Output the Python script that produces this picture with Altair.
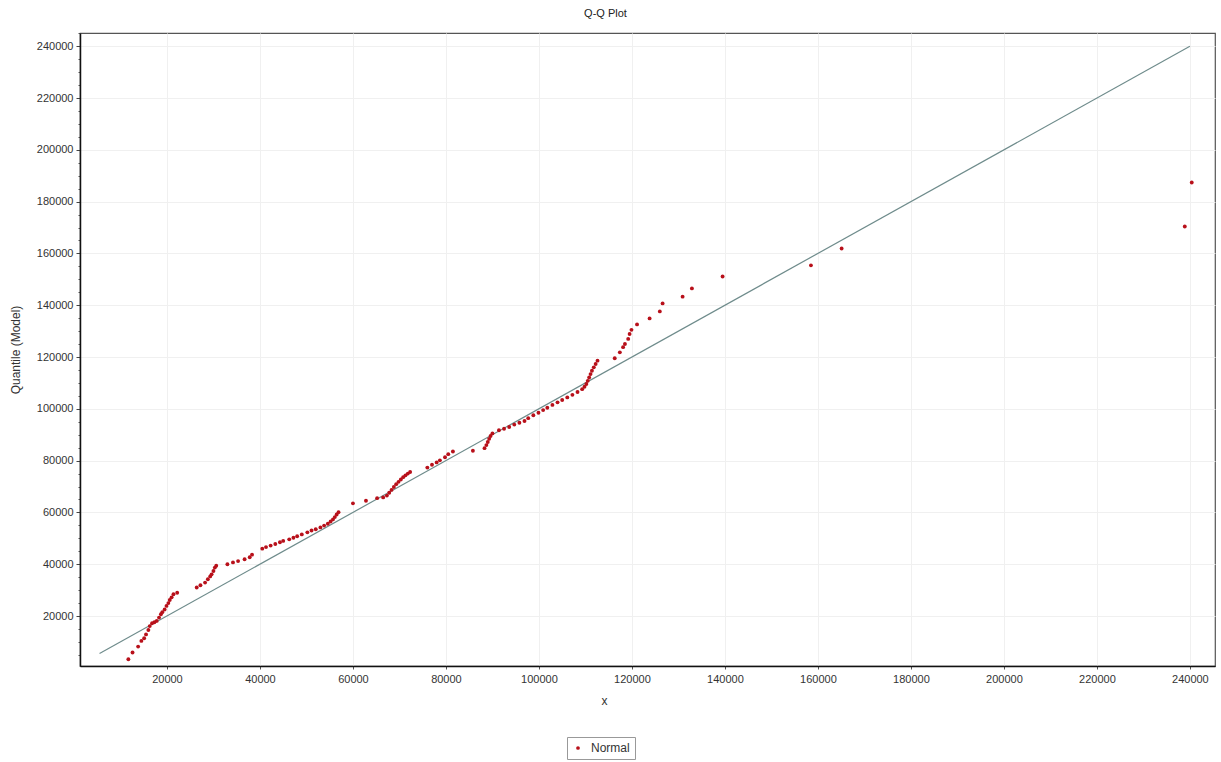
import altair as alt
import pandas as pd

# Q-Q points: sample quantile (x) vs model quantile (y)
x_vals = [
    11700, 12600, 13800, 14500, 15100, 15500, 16000, 16300, 16800, 17300, 17800,
    18300, 18700, 19000, 19500, 19900, 20300, 20600, 21000, 21400, 22200,
    26400, 27200, 28200, 28800, 29300, 29600, 30000, 30300, 30600,
    33000, 34200, 35300, 36700, 37800, 38300,
    40500, 41300, 42300, 43300, 44300, 45000,
    46300, 47200, 48000, 49000, 50200, 51100, 52000,
    53000, 53800, 54600, 55200, 55700, 56100, 56500, 56900,
    60000, 62800, 65200, 66500,
    67300, 67800, 68300, 68800, 69300, 69800, 70300, 70800, 71300, 71800, 72300,
    76000, 77000, 78000, 78700, 79800, 80500, 81500,
    85800,
    88300, 88700, 89000, 89300, 89600, 90000,
    91400, 92500, 93600, 94700, 95800, 96900, 97700, 98800, 99900, 100900,
    101800, 102900, 104000, 105000, 106100, 107200, 108300, 109300,
    109800, 110200, 110500, 110800, 111100, 111400, 111800, 112200, 112600,
    116300, 117400, 118100, 118500, 119200, 119500, 119900, 121100,
    123800, 126000, 126600, 130900, 132900, 139500, 158500, 165100,
    238900, 240400,
]
y_vals = [
    3300, 5900, 8200, 10400, 11400, 12900, 14600, 16100, 17200, 17600, 18100,
    19400, 20700, 21500, 22500, 23900, 25000, 26200, 27200, 28400, 29000,
    31000, 31900, 32900, 34200, 35300, 36100, 37400, 38700, 39400,
    40000, 40700, 41200, 41900, 42700, 43700,
    46000, 46600, 47200, 47800, 48500, 49000,
    49600, 50200, 50800, 51500, 52300, 53000, 53500,
    54200, 54900, 55600, 56500, 57300, 58200, 59200, 60100,
    63500, 64500, 65500, 65800,
    66500, 67600, 68700, 69800, 70900, 71800, 72700, 73600, 74300, 75000, 75600,
    77300, 78400, 79300, 80100, 81300, 82500, 83500,
    83800,
    84800, 86000, 87200, 88400, 89500, 90500,
    91700, 92300, 93000, 93900, 94600, 95300, 96400, 97500, 98500, 99500,
    100400, 101500, 102500, 103400, 104400, 105400, 106500, 107600,
    108500, 109600, 110800, 112100, 113400, 114700, 116000, 117300, 118600,
    119500, 121800, 123800, 125000, 127000, 128900, 130500, 132600,
    134900, 137600, 140700, 143300, 146500, 151100, 155400, 161900,
    170400, 187400,
]
series_name = "Normal"

# reference line (y = x)
line_x = [5500, 240000]
line_y = [5500, 240000]

tick_vals = [20000, 40000, 60000, 80000, 100000, 120000, 140000,
             160000, 180000, 200000, 220000, 240000]
minor_tick_vals = list(range(5000, 245001, 5000))

pts = pd.DataFrame({"x": x_vals, "q": y_vals, "series": series_name})
ln = pd.DataFrame({"x": line_x, "q": line_y})

FONT = "Liberation Sans"

xscale = alt.Scale(domain=[1300, 245400], nice=False, zero=False)
yscale = alt.Scale(domain=[700, 245100], nice=False, zero=False)

def xaxis():
    return alt.Axis(values=tick_vals, format="d", title="x", grid=True,
                    gridColor="#f0f0f0", domainColor="#111", domainWidth=1.5,
                    tickColor="#555", tickSize=3, labelFont=FONT, labelFontSize=11,
                    labelColor="#333", labelPadding=4, titleFont=FONT,
                    titleFontSize=12, titleFontWeight="normal", titleColor="#333",
                    titleX=524, titleY=34, titleBaseline="middle")

main_yaxis = alt.Axis(values=tick_vals, format="d", title="Quantile (Model)", grid=True,
                      orient="left",
                      gridColor="#f0f0f0", domainColor="#111", domainWidth=1.5,
                      tickColor="#444", tickSize=4, labelFont=FONT, labelFontSize=11,
                      labelColor="#333", labelPadding=3, titleFont=FONT,
                      titleFontSize=12, titleFontWeight="normal", titleColor="#333",
                      titleX=-65, titleBaseline="middle")

minor_yaxis = alt.Axis(values=minor_tick_vals, orient="left", labels=False, title=None,
                       grid=False, domain=False, tickColor="#555", tickSize=2,
                       tickWidth=1)

line = alt.Chart(ln).mark_line(color="#6f8c8c", strokeWidth=1.2).encode(
    x=alt.X("x:Q", scale=xscale, axis=xaxis()),
    y=alt.Y("q:Q", scale=yscale, axis=minor_yaxis),
)

points = alt.Chart(pts).mark_circle(size=15, opacity=1).encode(
    x=alt.X("x:Q", scale=xscale, axis=xaxis()),
    y=alt.Y("q:Q", scale=yscale, axis=main_yaxis),
    color=alt.Color("series:N", scale=alt.Scale(range=["#b8101a"]),
                    legend=alt.Legend(title=None, orient="none", legendX=487, legendY=704,
                                      strokeColor="#999", padding=5, symbolSize=14,
                                      symbolType="circle", labelFont=FONT,
                                      labelFontSize=12, labelColor="#333",
                                      labelOffset=7, direction="horizontal")),
)

chart = alt.layer(line, points).resolve_scale(y="independent").properties(
    width=1135, height=633,
    autosize=alt.AutoSizeParams(type="none"),
    padding={"left": 80, "top": 33, "right": 6, "bottom": 96},
    title=alt.TitleParams("Q-Q Plot", font=FONT, fontSize=11, fontWeight="normal",
                          color="#222", dx=-42, offset=14),
).configure_view(stroke="#555", strokeWidth=1.2)

chart.save("out.html", embed_options={"renderer": "svg", "actions": False})
